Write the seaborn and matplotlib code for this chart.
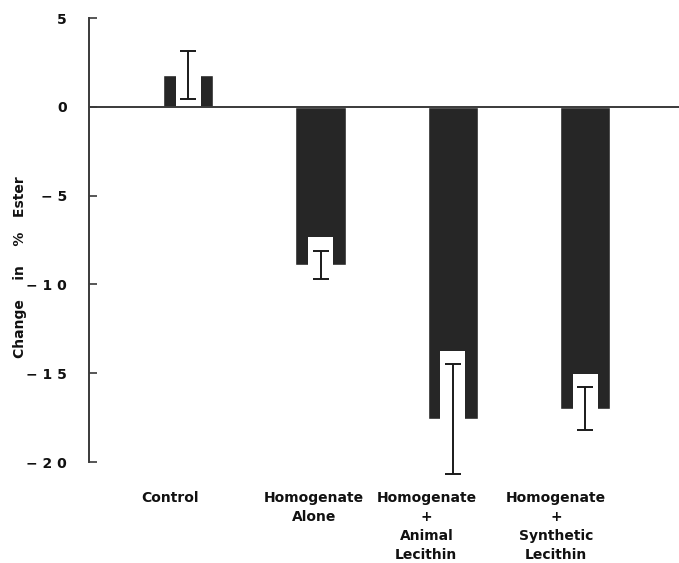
import matplotlib
matplotlib.use("Agg")
import matplotlib.pyplot as plt
import seaborn as sns
import pandas as pd

# Mean change in % ester for each treatment, with its error
groups = ["Control", "Homogenate\nAlone", "Homogenate\n+\nAnimal\nLecithin",
          "Homogenate\n+\nSynthetic\nLecithin"]
means = [1.8, -8.9, -17.6, -17.0]
errors = [1.35, 0.8, 3.1, 1.2]
yticks = [5, 0, -5, -10, -15, -20]

df = pd.DataFrame({"group": groups, "change": means})

sns.set_theme(style="white")
plt.rcParams["font.family"] = ["DejaVu Sans"]

fig = plt.figure(figsize=(6.79, 5.63), dpi=100)
ax = fig.add_axes([89 / 679, 1 - 462 / 563, 1 - 89 / 679, (462 - 18) / 563])

dark = "#262626"
bar_w = 0.38
sns.barplot(data=df, x="group", y="change", color=dark, width=bar_w,
            saturation=1, errorbar=None, ax=ax, zorder=2)

# white window behind each error bar, running from the bar end inward
margin = 0.75
xs = list(range(len(groups)))
for x, m, e in zip(xs, means, errors):
    sign = 1 if m > 0 else -1
    inner = m - sign * (e + margin)
    if sign * inner < 0:
        inner = 0
    ax.bar(x, m - inner, bottom=inner, width=bar_w * 0.5, color="white",
           linewidth=0, zorder=3)

ax.errorbar(xs, means, yerr=errors, fmt="none", ecolor="#1a1a1a",
            elinewidth=1.4, capsize=6, capthick=1.4, zorder=4, clip_on=False)

ax.axhline(0, color="#3a3a3a", linewidth=1.4, zorder=5)

ax.set_xlim(-0.75, 3.71)
ax.set_ylim(-20, 5)
ax.set_yticks(yticks)
ax.set_yticklabels(["5", "0", "\u2212 5", "\u2212 1 0", "\u2212 1 5", "\u2212 2 0"],
                   fontsize=10, fontweight="bold", color="#111111")
ax.tick_params(axis="y", direction="in", length=6, width=1.2, pad=16,
               color="#3a3a3a", left=True)
ax.tick_params(axis="x", bottom=False, labelbottom=False)

for s in ["top", "right", "bottom"]:
    ax.spines[s].set_visible(False)
ax.spines["left"].set_color("#3a3a3a")
ax.spines["left"].set_linewidth(1.4)

ax.set_xlabel("")
ax.set_ylabel("Change    in    %   Ester", fontsize=10, fontweight="bold",
              color="#111111")
ax.yaxis.set_label_coords(-0.105, 0.44)

# category labels below the plot, each a little left of its bar
label_x = [-0.14, -0.05, -0.2, -0.22]
for x, dx, name in zip(xs, label_x, groups):
    ax.text(x + dx, -21.65, name, ha="center", va="top", fontsize=10,
            fontweight="bold", color="#111111", linespacing=1.45,
            transform=ax.transData)

fig.savefig("out.png", dpi=100)
